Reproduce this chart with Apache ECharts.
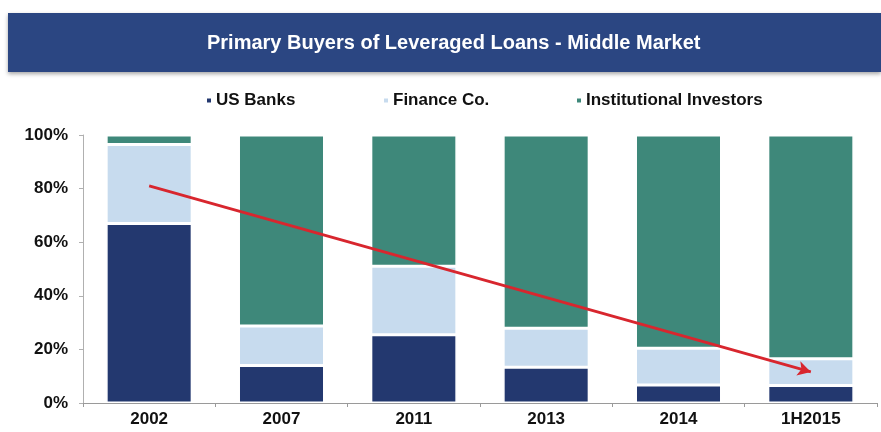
<!DOCTYPE html>
<html>
<head>
<meta charset="utf-8">
<script src="https://cdn.jsdelivr.net/npm/echarts@6/dist/echarts.min.js"></script>
<style>
  html, body { margin: 0; padding: 0; background: #ffffff; }
  #chart { width: 881px; height: 432px; }
</style>
</head>
<body>
<div id="chart"></div>
<script>
// Share of middle-market leveraged loan purchases by buyer type (%)
const categories = ['2002', '2007', '2011', '2013', '2014', '1H2015'];
const usBanks = [67, 14, 25.5, 13.3, 6.7, 6.5];
const financeCo = [29.5, 14.7, 25.5, 14.6, 13.7, 10];
const institutional = [3.5, 71.3, 49, 72.1, 79.6, 83.5];
const yTicks = [0, 20, 40, 60, 80, 100];
const seriesNames = ['US Banks', 'Finance Co.', 'Institutional Investors'];

// Downward trend arrow: [category, percent] at start and end
const trendStart = ['2002', 81];
const trendEnd = ['1H2015', 11.6];

const colors = { banks: '#23386f', finance: '#c7dbee', inst: '#3e887a' };
const FONT = 'Liberation Sans, Arial, sans-serif';

const chart = echarts.init(document.getElementById('chart'), null, { renderer: 'canvas' });

const barStyle = (c) => ({ color: c, borderColor: '#ffffff', borderWidth: 1.5 });

// one legend block per series so each entry sits at its own x
const legendLefts = [205, 382, 575];
const legends = seriesNames.map((name, i) => ({
  top: 92,
  left: legendLefts[i],
  padding: 0,
  itemWidth: 6,
  itemHeight: 6,
  icon: 'rect',
  textStyle: { fontFamily: FONT, fontSize: 17, fontWeight: 'bold', color: '#111111', padding: [0, 0, 0, -1] },
  data: [name]
}));

chart.setOption({
  backgroundColor: '#ffffff',
  animation: false,
  graphic: [
    {
      type: 'rect',
      left: 8, top: 13,
      shape: { width: 873, height: 59 },
      style: {
        fill: '#2b4682',
        shadowColor: 'rgba(0,0,0,0.35)', shadowBlur: 4, shadowOffsetY: 2
      },
      z: 0
    },
    {
      type: 'text',
      left: 207, top: 33,
      style: {
        text: 'Primary Buyers of Leveraged Loans - Middle Market',
        fill: '#ffffff',
        font: 'bold 20px ' + FONT
      },
      z: 1
    }
  ],
  legend: legends,
  grid: { left: 83, right: 4, top: 135, bottom: 29, containLabel: false },
  xAxis: {
    type: 'category',
    data: categories,
    axisLine: { lineStyle: { color: '#9a9a9a', width: 1 } },
    axisTick: { show: true, length: 4, lineStyle: { color: '#9a9a9a' } },
    axisLabel: { fontFamily: FONT, fontSize: 17, fontWeight: 'bold', color: '#111111', margin: 8 }
  },
  yAxis: {
    type: 'value',
    min: 0, max: 100, interval: 20,
    axisLine: { show: true, lineStyle: { color: '#b0b0b0', width: 1 } },
    axisTick: { show: true, length: 4, lineStyle: { color: '#b0b0b0' } },
    splitLine: { show: false },
    axisLabel: {
      fontFamily: FONT, fontSize: 17, fontWeight: 'bold', color: '#111111', margin: 15,
      formatter: (v) => yTicks.includes(v) ? v + '%' : ''
    }
  },
  series: [
    {
      name: seriesNames[0], type: 'bar', stack: 'total', barWidth: '65%',
      itemStyle: barStyle(colors.banks), data: usBanks
    },
    {
      name: seriesNames[1], type: 'bar', stack: 'total',
      itemStyle: barStyle(colors.finance), data: financeCo
    },
    {
      name: seriesNames[2], type: 'bar', stack: 'total',
      itemStyle: barStyle(colors.inst), data: institutional,
      markLine: {
        silent: true,
        symbol: ['none', 'arrow'],
        symbolSize: [11, 13],
        lineStyle: { color: '#d8262e', width: 2.8, type: 'solid' },
        label: { show: false },
        data: [[{ coord: trendStart }, { coord: trendEnd }]],
        z: 10
      }
    }
  ]
});
</script>
</body>
</html>
